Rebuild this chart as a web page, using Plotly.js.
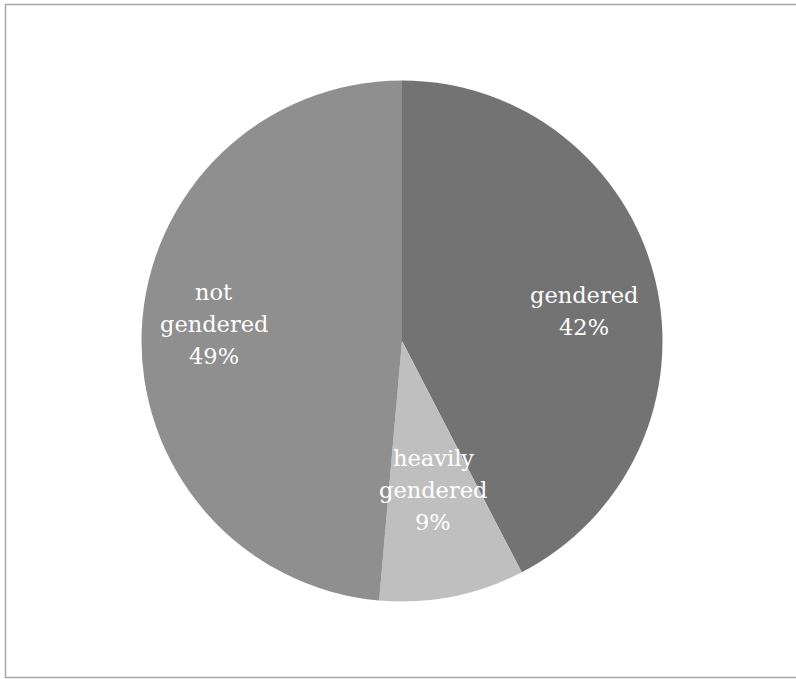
<!DOCTYPE html>
<html>
<head>
<meta charset="utf-8">
<script src="https://cdn.plot.ly/plotly-3.0.1.min.js"></script>
<style>html,body{margin:0;padding:0;background:#fff;}#chart{width:796px;height:679px;}</style>
</head>
<body>
<div id="chart"></div>
<script>
// Data
const categories = ["gendered", "heavily gendered", "not gendered"];
const categoryLines = [["gendered"], ["heavily", "gendered"], ["not", "gendered"]];
const shares = [42.4, 9.0, 48.6];

// Style
const colors = ["#737373", "#bfbfbf", "#8f8f8f"];
const W = 796, H = 679;
const CX = 402, CY = 341, R = 260.5;          // pie geometry in px
const labelRadius = [0.708, 0.584, 0.725];     // label distance as fraction of radius
const labelAngleNudge = [4.3, -0.6, 2.7];      // degrees
const lineGap = 32;                            // px between text lines

const total = shares.reduce((a, b) => a + b, 0);
let cum = 0;
const annotations = [];
shares.forEach((v, i) => {
  const mid = (cum + v / 2) / total * 360 + labelAngleNudge[i];
  cum += v;
  const t = mid * Math.PI / 180;
  const px = CX + labelRadius[i] * R * Math.sin(t);
  const py = CY - labelRadius[i] * R * Math.cos(t);
  const pct = Math.round(v / total * 100) + "%";
  const lines = categoryLines[i].concat([pct]);
  lines.forEach((ln, k) => {
    const ly = py + (k - (lines.length - 1) / 2) * lineGap;
    annotations.push({
      xref: "paper", yref: "paper",
      x: px / W, y: 1 - ly / H,
      xanchor: "center", yanchor: "middle",
      text: ln,
      showarrow: false,
      font: {family: "DejaVu Serif", size: 22.5, color: "#ffffff"}
    });
  });
});

const trace = {
  type: "pie",
  labels: categories,
  values: shares,
  sort: false,
  direction: "clockwise",
  rotation: 0,
  textinfo: "none",
  hoverinfo: "label+percent",
  marker: {colors: colors, line: {width: 0}},
  domain: {x: [(CX - R) / W, (CX + R) / W], y: [1 - (CY + R) / H, 1 - (CY - R) / H]},
  showlegend: false
};

const layout = {
  width: W, height: H,
  margin: {l: 0, r: 0, t: 0, b: 0},
  paper_bgcolor: "#ffffff",
  showlegend: false,
  annotations: annotations,
  shapes: [{
    type: "rect", xref: "paper", yref: "paper",
    x0: 5.5 / W, x1: 1.02, y0: 1 - 677.5 / H, y1: 1 - 4.5 / H,
    line: {color: "#a6a6a6", width: 1.5}, fillcolor: "rgba(0,0,0,0)"
  }]
};

Plotly.newPlot("chart", [trace], layout, {displayModeBar: false, staticPlot: true});
</script>
</body>
</html>
